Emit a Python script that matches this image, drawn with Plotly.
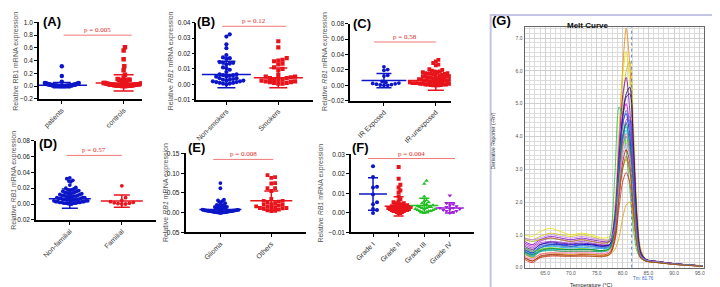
import plotly.graph_objects as go

W, H = 720, 287

# ---------------- data (scatter panels) ----------------
A_cats = ["patients", "controls"]
A_patients = [0.31, 0.16, 0.07, 0.05, 0.05, 0.045, 0.04, 0.04, 0.035, 0.03, 0.03, 0.03, 0.025, 0.025,
              0.02, 0.02, 0.02, 0.02, 0.015, 0.015, 0.015, 0.01, 0.01, 0.01, 0.01, 0.01, 0.008, 0.008,
              0.006, 0.006, 0.005, 0.005, 0.004, 0.004, 0.003, 0.003, 0.002, 0.002, 0.001, 0.001, 0.0, 0.0]
A_controls = [0.61, 0.56, 0.42, 0.31, 0.25, 0.18, 0.13, 0.11, 0.10, 0.10, 0.10, 0.09, 0.09, 0.08, 0.07,
              0.06, 0.06, 0.05, 0.05, 0.05, 0.04, 0.04, 0.04, 0.035, 0.03, 0.03, 0.03, 0.025, 0.025,
              0.02, 0.02, 0.02, 0.02, 0.015, 0.015, 0.015, 0.01, 0.01, 0.01, 0.01, 0.008, 0.006,
              0.005, 0.004, 0.003, 0.002, 0.001, 0.0]
A_mean = [0.015, 0.05]
A_sd = [0.04, 0.128]

B_cats = ["Non-smokers", "Smokers"]
B_non = [0.0325, 0.031, 0.026, 0.0235, 0.019, 0.0175, 0.017, 0.0165, 0.0145, 0.014, 0.014, 0.0135,
         0.013, 0.011, 0.0105, 0.0095, 0.008, 0.0065, 0.0065, 0.006, 0.006, 0.0055, 0.005, 0.005,
         0.004, 0.004, 0.0035, 0.003, 0.003, 0.0025, 0.0025, 0.002, 0.002, 0.0015, 0.0015, 0.001,
         0.001, 0.0005, 0.0005, 0.0]
B_smk = [0.028, 0.024, 0.017, 0.016, 0.0155, 0.015, 0.0135, 0.013, 0.011, 0.01, 0.009, 0.006,
         0.005, 0.005, 0.0045, 0.004, 0.004, 0.0035, 0.003, 0.003, 0.0025, 0.002, 0.002, 0.0015,
         0.0015, 0.001, 0.001, 0.0005, 0.0005]
B_mean = [0.0064, 0.0043]
B_sd = [0.0086, 0.0064]

C_cats = ["IR Exposed", "IR-unexposed"]
C_exp = [0.024, 0.0205, 0.0195, 0.013, 0.012, 0.005, 0.004, 0.003, 0.0025, 0.002, 0.0015, 0.001,
         0.0005, 0.0, 0.0]
C_unexp = [0.033, 0.031, 0.029, 0.027, 0.026, 0.021, 0.02, 0.019, 0.018, 0.018, 0.017, 0.017, 0.016,
           0.016, 0.015, 0.015, 0.015, 0.014, 0.014, 0.013, 0.013, 0.012, 0.012, 0.012, 0.011, 0.011,
           0.01, 0.01, 0.01, 0.009, 0.009, 0.009, 0.008, 0.008, 0.008, 0.007, 0.007, 0.007, 0.006,
           0.006, 0.006, 0.006, 0.005, 0.005, 0.005, 0.005, 0.004, 0.004, 0.004, 0.004, 0.003, 0.003,
           0.003, 0.003, 0.003, 0.002, 0.002, 0.002, 0.002, 0.002, 0.001, 0.001, 0.001, 0.001,
           0.0005, 0.0005, 0.0, 0.0, 0.0]
C_mean = [0.0062, 0.0062]
C_sd = [0.0092, 0.0126]

D_cats = ["Non-familial", "Familial"]
D_non = [0.033, 0.032, 0.03, 0.029, 0.028, 0.024, 0.021, 0.02, 0.019, 0.018, 0.018, 0.017, 0.017,
         0.016, 0.016, 0.015, 0.015, 0.014, 0.014, 0.013, 0.013, 0.013, 0.012, 0.012, 0.011, 0.011,
         0.011, 0.01, 0.01, 0.01, 0.009, 0.009, 0.009, 0.008, 0.008, 0.008, 0.007, 0.007, 0.007,
         0.006, 0.006, 0.006, 0.006, 0.005, 0.005, 0.005, 0.005, 0.004, 0.004, 0.004, 0.004, 0.003,
         0.003, 0.003, 0.003, 0.002, 0.002, 0.002, 0.002, 0.001, 0.001, 0.001, 0.001, 0.0005, 0.0, 0.0]
D_fam = [0.023, 0.008, 0.0045, 0.003, 0.002, 0.0015, 0.001, 0.0005, 0.0, 0.0]
D_mean = [0.0068, 0.0037]
D_sd = [0.0122, 0.0078]

E_cats = ["Glioma", "Others"]
E_gli = [0.075, 0.062, 0.033, 0.031, 0.03, 0.028, 0.027, 0.025, 0.024, 0.02, 0.019, 0.018, 0.018,
         0.017, 0.017, 0.016, 0.015, 0.014, 0.013, 0.012, 0.011, 0.01, 0.01, 0.009, 0.009, 0.008,
         0.008, 0.008, 0.007, 0.007, 0.007, 0.006, 0.006, 0.006, 0.006, 0.005, 0.005, 0.005, 0.005,
         0.004, 0.004, 0.004, 0.004, 0.003, 0.003, 0.003, 0.003, 0.002, 0.002, 0.002, 0.002, 0.001,
         0.001, 0.001, 0.001, 0.0, 0.0, 0.0]
E_oth = [0.095, 0.09, 0.088, 0.075, 0.074, 0.062, 0.062, 0.055, 0.035, 0.03, 0.03, 0.028, 0.025,
         0.024, 0.022, 0.02, 0.02, 0.018, 0.016, 0.015, 0.014, 0.013, 0.012, 0.012, 0.011, 0.01,
         0.008, 0.006, 0.005, 0.004]
E_mean = [0.008, 0.0305]
E_sd = [0.0085, 0.0245]

F_cats = ["Grade I", "Grade II", "Grade III", "Grade IV"]
F_g1 = [0.024, 0.0185, 0.0135, 0.013, 0.0095, 0.0055, 0.0045, 0.002, 0.0015, 0.0]
F_g2 = [0.0235, 0.0175, 0.0145, 0.013, 0.0115, 0.0105, 0.0085, 0.007, 0.006, 0.0055, 0.005, 0.005,
        0.0045, 0.0045, 0.004, 0.004, 0.004, 0.0035, 0.0035, 0.003, 0.003, 0.003, 0.003, 0.0025,
        0.0025, 0.0025, 0.002, 0.002, 0.002, 0.002, 0.0015, 0.0015, 0.0015, 0.001, 0.001, 0.001,
        0.0005, 0.0005, 0.0, 0.0]
F_g3 = [0.0165, 0.015, 0.0085, 0.0065, 0.006, 0.0055, 0.005, 0.0045, 0.004, 0.004, 0.0035, 0.003,
        0.003, 0.003, 0.0025, 0.0025, 0.002, 0.002, 0.002, 0.0015, 0.0015, 0.001, 0.001, 0.001,
        0.0005, 0.0005, 0.0]
F_g4 = [0.009, 0.005, 0.0045, 0.004, 0.0035, 0.003, 0.0025, 0.0025, 0.002, 0.002, 0.0015, 0.001,
        0.001, 0.0005, 0.0]
F_mean = [0.0097, 0.0034, 0.0038, 0.0026]
F_sd = [0.0083, 0.0049, 0.0037, 0.0026]

p_texts = ["p = 0.005", "p = 0.12", "p = 0.58", "p = 0.57", "p = 0.008", "p = 0.004"]
p_y = [0.8, 0.0377, 0.0563, 0.0615, 0.135, 0.0279]
p_x = [[0.03, 1.13], [-0.08, 1.15], [-0.19, 1.0], [-0.06, 1.0], [-0.14, 1.04], [-0.19, 3.2]]

# ---------------- data (melt curve) ----------------
T = [61, 62.5, 64, 66, 68, 70, 72, 74, 76, 77.5, 78.5, 79.3, 80, 80.7, 81.4, 82.1, 82.8, 83.5,
     84.5, 87, 90, 95.5]
melt = [
    ("#f08000", [0.45, 0.35, 0.5, 0.55, 0.5, 0.5, 0.5, 0.5, 0.5, 0.6, 1.8, 4.0, 6.0, 7.3, 6.2, 3.8, 1.5, 0.5, 0.25, 0.18, 0.12, 0.05]),
    ("#e8e000", [1.0, 0.95, 1.1, 1.2, 1.1, 1.0, 1.05, 1.0, 0.9, 0.95, 1.6, 3.8, 5.8, 6.6, 5.6, 3.4, 1.3, 0.45, 0.25, 0.18, 0.12, 0.06]),
    ("#d4c000", [0.9, 0.85, 0.95, 1.05, 1.0, 0.95, 1.0, 0.95, 0.85, 0.85, 1.2, 2.8, 4.8, 6.0, 6.3, 4.4, 1.8, 0.6, 0.26, 0.19, 0.12, 0.06]),
    ("#8000c0", [0.8, 0.7, 0.85, 0.95, 0.9, 0.85, 0.9, 0.85, 0.8, 0.8, 1.6, 3.6, 5.2, 5.8, 4.8, 2.8, 1.0, 0.4, 0.24, 0.18, 0.12, 0.05]),
    ("#000080", [0.55, 0.45, 0.6, 0.7, 0.7, 0.65, 0.7, 0.7, 0.65, 0.7, 1.3, 3.0, 4.6, 5.3, 5.5, 3.8, 1.5, 0.5, 0.25, 0.18, 0.12, 0.05]),
    ("#20c040", [0.5, 0.4, 0.55, 0.6, 0.55, 0.55, 0.55, 0.55, 0.5, 0.9, 2.8, 4.9, 4.6, 3.6, 2.4, 1.2, 0.5, 0.3, 0.22, 0.17, 0.11, 0.05]),
    ("#d000d0", [0.75, 0.65, 0.8, 0.9, 0.85, 0.8, 0.85, 0.8, 0.75, 0.8, 1.5, 3.4, 4.6, 5.0, 4.3, 2.6, 1.0, 0.4, 0.24, 0.18, 0.12, 0.05]),
    ("#0000ff", [0.6, 0.5, 0.7, 0.75, 0.72, 0.7, 0.72, 0.7, 0.65, 0.7, 1.4, 3.2, 4.4, 4.7, 4.0, 2.4, 0.9, 0.35, 0.23, 0.17, 0.11, 0.05]),
    ("#2050e0", [0.55, 0.45, 0.65, 0.7, 0.68, 0.65, 0.68, 0.66, 0.62, 0.66, 1.1, 2.6, 3.9, 4.4, 4.5, 3.2, 1.2, 0.4, 0.24, 0.18, 0.12, 0.05]),
    ("#00a0ff", [0.5, 0.4, 0.6, 0.65, 0.62, 0.6, 0.62, 0.6, 0.58, 0.62, 1.3, 3.0, 4.0, 4.3, 3.7, 2.2, 0.8, 0.33, 0.22, 0.17, 0.11, 0.05]),
    ("#00d0e0", [0.45, 0.35, 0.5, 0.55, 0.55, 0.55, 0.55, 0.55, 0.52, 0.58, 1.2, 2.9, 3.9, 4.2, 3.6, 2.1, 0.8, 0.32, 0.22, 0.16, 0.11, 0.05]),
    ("#00a090", [0.42, 0.32, 0.48, 0.52, 0.5, 0.5, 0.5, 0.5, 0.48, 0.55, 1.1, 2.7, 3.7, 4.0, 3.5, 2.0, 0.75, 0.3, 0.21, 0.16, 0.1, 0.05]),
    ("#a040e0", [0.7, 0.6, 0.75, 0.8, 0.78, 0.75, 0.8, 0.75, 0.7, 0.72, 1.0, 2.4, 3.8, 4.5, 4.6, 3.3, 1.3, 0.45, 0.25, 0.18, 0.12, 0.05]),
    ("#e02020", [0.25, 0.15, 0.3, 0.35, 0.35, 0.35, 0.35, 0.35, 0.35, 0.4, 0.8, 1.8, 2.6, 2.9, 2.6, 1.6, 0.7, 0.3, 0.2, 0.15, 0.1, 0.04]),
    ("#b00000", [0.3, 0.2, 0.35, 0.4, 0.4, 0.38, 0.4, 0.4, 0.38, 0.45, 0.9, 2.2, 3.2, 3.6, 3.2, 1.9, 0.7, 0.3, 0.2, 0.15, 0.1, 0.04]),
    ("#e0a000", [0.4, 0.3, 0.4, 0.45, 0.42, 0.4, 0.42, 0.4, 0.38, 0.4, 0.55, 0.9, 1.5, 1.9, 2.0, 1.5, 0.7, 0.3, 0.2, 0.15, 0.1, 0.04]),
    ("#80e000", [0.6, 0.5, 0.55, 0.6, 0.58, 0.55, 0.58, 0.55, 0.52, 0.56, 1.2, 2.8, 3.6, 3.9, 3.4, 2.0, 0.75, 0.3, 0.21, 0.16, 0.1, 0.05]),
    ("#4b0082", [0.65, 0.55, 0.7, 0.78, 0.75, 0.72, 0.75, 0.72, 0.68, 0.7, 1.2, 2.9, 4.5, 5.2, 5.3, 3.6, 1.4, 0.45, 0.25, 0.18, 0.12, 0.05]),
    ("#ff60a0", [0.35, 0.25, 0.4, 0.45, 0.45, 0.45, 0.45, 0.45, 0.43, 0.5, 1.0, 2.6, 3.7, 4.1, 3.6, 2.1, 0.8, 0.3, 0.21, 0.16, 0.1, 0.05]),
    ("#a0a000", [0.85, 0.8, 0.85, 0.9, 0.85, 0.8, 0.85, 0.8, 0.75, 0.78, 1.1, 2.2, 3.0, 3.3, 2.9, 1.8, 0.75, 0.35, 0.22, 0.17, 0.11, 0.05]),
    ("#4080c0", [0.5, 0.42, 0.6, 0.68, 0.65, 0.63, 0.66, 0.64, 0.6, 0.64, 1.2, 3.0, 4.3, 4.8, 4.3, 2.6, 1.0, 0.38, 0.23, 0.17, 0.11, 0.05]),
    ("#008040", [0.48, 0.38, 0.52, 0.58, 0.56, 0.55, 0.56, 0.55, 0.52, 0.58, 1.2, 2.9, 4.0, 4.4, 3.8, 2.3, 0.85, 0.33, 0.22, 0.16, 0.11, 0.05]),
    ("#c080ff", [0.9, 0.85, 0.9, 1.0, 0.95, 0.9, 0.95, 0.9, 0.85, 0.85, 1.2, 2.5, 3.4, 3.8, 3.4, 2.1, 0.8, 0.35, 0.23, 0.17, 0.11, 0.05]),
    ("#a05000", [0.3, 0.2, 0.32, 0.38, 0.36, 0.35, 0.36, 0.35, 0.33, 0.4, 0.9, 2.1, 3.0, 3.4, 3.0, 1.8, 0.7, 0.3, 0.2, 0.15, 0.1, 0.04]),
]
Tm = 81.76
G_xticks = [65, 70, 75, 80, 85, 90, 95]
G_yticks = [0, 1, 2, 3, 4, 5, 6, 7]

# ---------------- geometry (pixels) ----------------
panels = {
    1: dict(x0=30, x1=133, yt=10.7, yb=89, xr=[-0.370, 1.291], yr=[-0.2, 1.0], dt=0.2, fmt=".1f"),
    2: dict(x0=188, x1=305, yt=11, yb=90, xr=[-0.576, 1.671], yr=[-0.01, 0.04], dt=0.01, fmt=".2f"),
    3: dict(x0=342, x1=443, yt=12, yb=91, xr=[-0.654, 1.289], yr=[-0.02, 0.08], dt=0.02, fmt=".2f"),
    4: dict(x0=27, x1=147, yt=132, yb=213, xr=[-0.652, 1.65], yr=[-0.02, 0.08], dt=0.02, fmt=".2f"),
    5: dict(x0=177, x1=298, yt=145, yb=226, xr=[-0.685, 1.685], yr=[-0.05, 0.15], dt=0.05, fmt=".2f"),
    6: dict(x0=343, x1=466, yt=146, yb=226, xr=[-0.858, 3.93], yr=[-0.01, 0.03], dt=0.01, fmt=".2f"),
}

BLUE, RED, GREEN, PURPLE = "#0c16c8", "#e8141c", "#22c022", "#a020d8"
FONT = "Liberation Sans, Arial, sans-serif"


def beeswarm(vals, center, pid, d, maxhalf):
    g = panels[pid]
    ypx = (g["yb"] - g["yt"]) / (g["yr"][1] - g["yr"][0])
    xpx = (g["x1"] - g["x0"]) / (g["xr"][1] - g["xr"][0])
    order = sorted(range(len(vals)), key=lambda i: vals[i])
    placed = []
    offs = [0.0] * len(vals)
    step = d * 0.5
    cands = [0.0]
    for j in range(1, 400):
        cands += [j * step, -j * step]
    for i in order:
        y = vals[i] * ypx
        near = [(px, py) for px, py in placed if abs(py - y) < d]
        for c in cands:
            if all((c - px) ** 2 + (y - py) ** 2 >= (d * 0.92) ** 2 for px, py in near):
                break
        placed.append((c, y))
        offs[i] = c
    m = max(abs(o) for o in offs) or 1.0
    s = min(1.0, maxhalf / m)
    return [center + o * s / xpx for o in offs]


fig = go.Figure()


def add_group(pid, idx, vals, color, symbol, size, maxhalf, mean, sd, mw, cw):
    xs = beeswarm(vals, idx, pid, size, maxhalf)
    xa = "x" if pid == 1 else f"x{pid}"
    ya = "y" if pid == 1 else f"y{pid}"
    fig.add_trace(go.Scatter(x=xs, y=vals, mode="markers", xaxis=xa, yaxis=ya,
                             marker=dict(color=color, symbol=symbol, size=size, line=dict(width=0)),
                             showlegend=False, hoverinfo="skip"))
    fig.add_trace(go.Scatter(x=[idx], y=[mean], mode="markers", xaxis=xa, yaxis=ya,
                             marker=dict(symbol="line-ew", size=mw, color=color,
                                         line=dict(color=color, width=1.5)),
                             error_y=dict(type="data", array=[sd], visible=True, color=color,
                                          thickness=1.5, width=cw),
                             showlegend=False, hoverinfo="skip"))


add_group(1, 0, A_patients, BLUE, "circle", 4.5, 17, A_mean[0], A_sd[0], 36, 9)
add_group(1, 1, A_controls, RED, "square", 4.5, 20, A_mean[1], A_sd[1], 40, 10)
add_group(2, 0, B_non, BLUE, "circle", 4.2, 17, B_mean[0], B_sd[0], 35, 9)
add_group(2, 1, B_smk, RED, "square", 4.2, 17, B_mean[1], B_sd[1], 35, 9)
add_group(3, 0, C_exp, BLUE, "circle", 3.8, 15, C_mean[0], C_sd[0], 32, 7.5)
add_group(3, 1, C_unexp, RED, "square", 3.8, 26, C_mean[1], C_sd[1], 40, 8)
add_group(4, 0, D_non, BLUE, "circle", 3.8, 18, D_mean[0], D_sd[0], 30, 8)
add_group(4, 1, D_fam, RED, "circle", 3.8, 16, D_mean[1], D_sd[1], 30, 8)
add_group(5, 0, E_gli, BLUE, "circle", 3.8, 18, E_mean[0], E_sd[0], 30, 7)
add_group(5, 1, E_oth, RED, "square", 3.8, 18, E_mean[1], E_sd[1], 30, 7)
add_group(6, 0, F_g1, BLUE, "circle", 4.0, 10, F_mean[0], F_sd[0], 20, 5)
add_group(6, 1, F_g2, RED, "square", 4.0, 12, F_mean[1], F_sd[1], 20, 5)
add_group(6, 2, F_g3, GREEN, "triangle-up", 4.0, 11, F_mean[2], F_sd[2], 20, 5)
add_group(6, 3, F_g4, PURPLE, "triangle-down", 4.0, 10, F_mean[3], F_sd[3], 20, 5)

# melt curves
for col, vals in melt:
    fig.add_trace(go.Scatter(x=T, y=vals, mode="lines", xaxis="x7", yaxis="y7",
                             line=dict(color=col, width=0.8, shape="spline", smoothing=0.8),
                             showlegend=False, hoverinfo="skip"))

cats = {1: A_cats, 2: B_cats, 3: C_cats, 4: D_cats, 5: E_cats, 6: F_cats}
layout = dict(width=W, height=H, margin=dict(l=0, r=0, t=0, b=0),
              paper_bgcolor="white", plot_bgcolor="white", font=dict(family=FONT))
for pid, g in panels.items():
    xk = "xaxis" if pid == 1 else f"xaxis{pid}"
    yk = "yaxis" if pid == 1 else f"yaxis{pid}"
    ya = "y" if pid == 1 else f"y{pid}"
    xa = "x" if pid == 1 else f"x{pid}"
    layout[xk] = dict(domain=[g["x0"] / W, g["x1"] / W], range=g["xr"], anchor=ya,
                      showline=True, linecolor="black", linewidth=1.5, ticks="outside", ticklen=3,
                      tickwidth=1, tickcolor="black",
                      tickvals=list(range(len(cats[pid]))), ticktext=cats[pid], tickangle=-45,
                      tickfont=dict(size=7, color="#333"), showgrid=False, zeroline=False)
    layout[yk] = dict(domain=[1 - g["yb"] / H, 1 - g["yt"] / H], range=g["yr"], anchor=xa,
                      showline=True, linecolor="black", linewidth=1.5, ticks="outside", ticklen=3,
                      tickwidth=1, tickcolor="black", dtick=g["dt"], tick0=0, tickformat=g["fmt"],
                      tickfont=dict(size=6.5, color="#111"), showgrid=False, zeroline=False)

layout["xaxis7"] = dict(domain=[517 / W, 697 / W], range=[61, 95.8], anchor="y7",
                        showline=True, mirror=True, linecolor="#666", linewidth=1,
                        tickvals=G_xticks, ticktext=[f"{v:.1f}" for v in G_xticks],
                        tickfont=dict(size=5, color="#555"), ticks="", ticklen=0,
                        showgrid=True, gridcolor="#cfcfcf", gridwidth=0.6, zeroline=False,
                        minor=dict(dtick=1, tick0=61, showgrid=True, gridcolor="#dcdcdc", gridwidth=0.5))
layout["yaxis7"] = dict(domain=[1 - 262 / H, 1 - 15 / H], range=[0, 7.35], anchor="x7",
                        showline=True, mirror=True, linecolor="#666", linewidth=1,
                        tickvals=G_yticks, ticktext=[f"{v:.1f}" for v in G_yticks],
                        tickfont=dict(size=5, color="#555"), ticks="",
                        showgrid=True, gridcolor="#cfcfcf", gridwidth=0.6, zeroline=False,
                        minor=dict(dtick=1 / 7, tick0=0, showgrid=True, gridcolor="#dcdcdc", gridwidth=0.5))

shapes = []
annotations = []
for k in range(6):
    pid = k + 1
    xa = "x" if pid == 1 else f"x{pid}"
    ya = "y" if pid == 1 else f"y{pid}"
    shapes.append(dict(type="line", xref=xa, yref=ya, x0=p_x[k][0], x1=p_x[k][1], y0=p_y[k], y1=p_y[k],
                       line=dict(color="#f07878", width=1)))
    annotations.append(dict(xref=xa, yref=ya, x=(p_x[k][0] + p_x[k][1]) / 2, y=p_y[k], yshift=5,
                            text=p_texts[k], showarrow=False,
                            font=dict(family="Liberation Serif, Times New Roman, serif", size=7, color="#e02828")))

shapes.append(dict(type="line", xref="x7", yref="y7 domain", x0=Tm, x1=Tm, y0=0, y1=1,
                   line=dict(color="#3868c8", width=0.8, dash="dot")))
shapes.append(dict(type="rect", xref="paper", yref="paper", x0=483 / W, x1=717 / W, y0=1 - 285 / H, y1=1 - 3 / H,
                   line=dict(color="#c4c4e4", width=2), layer="below"))

# panel letters
letters = [("(A)", 43, 10), ("(B)", 198, 10), ("(C)", 354, 12), ("(D)", 39, 134.5),
           ("(E)", 188, 139), ("(F)", 352, 139), ("(G)", 494, 9)]
for t, px, py in letters:
    annotations.append(dict(xref="paper", yref="paper", x=px / W, y=1 - py / H, text=f"<b>{t}</b>",
                            showarrow=False, font=dict(size=13, color="black", family=FONT),
                            xanchor="center", yanchor="middle"))

# y-axis titles
ytitles = [("Relative RB1 mRNA expression", 7, 50), ("Relative <i>RB1</i> mRNA expression", 162, 50),
           ("Relative <i>RB1</i> mRNA expression", 317, 51), ("Relative <i>RB1</i> mRNA expression", 5, 172),
           ("Relative <i>RB1</i> mRNA expression", 158, 185), ("Relative <i>RB1</i> mRNA expression", 313, 186)]
for t, px, py in ytitles:
    annotations.append(dict(xref="paper", yref="paper", x=px / W, y=1 - py / H, text=t, textangle=-90,
                            showarrow=False, font=dict(size=7, color="#555", family=FONT),
                            xanchor="center", yanchor="middle"))

annotations.append(dict(xref="paper", yref="paper", x=603 / W, y=1 - 7 / H, text="<b>Melt Curve</b>",
                        showarrow=False, font=dict(size=8, color="#111", family=FONT)))
annotations.append(dict(xref="paper", yref="paper", x=490 / W, y=1 - 132 / H, text="Derivative Reporter (-Rn')",
                        textangle=-90, showarrow=False, font=dict(size=5, color="#333", family=FONT)))
annotations.append(dict(xref="x7", yref="paper", x=Tm, xanchor="left", xshift=-1, y=1 - 273.5 / H,
                        yanchor="middle", text="Tm: 81.76",
                        showarrow=False, font=dict(size=4.5, color="#3060c0", family=FONT)))
annotations.append(dict(xref="paper", yref="paper", x=607 / W, y=1 - 279.5 / H, yanchor="middle",
                        text="Temperature (°C)", showarrow=False,
                        font=dict(size=5.5, color="#222", family=FONT)))

layout["shapes"] = shapes
layout["annotations"] = annotations
fig.update_layout(**layout)
fig.write_html("out.html")
